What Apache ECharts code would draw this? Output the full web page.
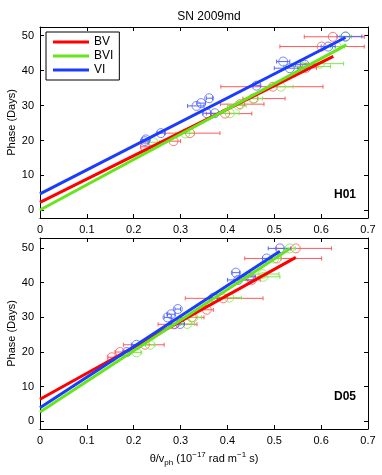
<!DOCTYPE html>
<html>
<head>
<meta charset="utf-8">
<script src="https://cdn.jsdelivr.net/npm/echarts@6/dist/echarts.min.js"></script>
<style>
  html, body { margin: 0; padding: 0; background: #fff; }
</style>
</head>
<body>
<div id="chart" style="width: 382px; height: 475px;"></div>
<script>
// points: [x, phase, xLow, xHigh]
const h01BV = [
  [0.224, 18.2, 0.215, 0.235], [0.285, 19.8, 0.265, 0.300], [0.320, 22.1, 0.267, 0.384],
  [0.395, 27.7, 0.355, 0.452], [0.427, 30.4, 0.385, 0.478], [0.455, 32.0, 0.433, 0.523],
  [0.497, 35.4, 0.386, 0.604], [0.568, 40.8, 0.550, 0.590], [0.601, 46.9, 0.512, 0.692],
  [0.625, 49.7, 0.564, 0.692]
];
const h01BVI = [
  [0.242, 19.5, 0.230, 0.255], [0.310, 22.0, 0.290, 0.330], [0.405, 27.8, 0.385, 0.425],
  [0.423, 30.0, 0.400, 0.440], [0.457, 32.0, 0.440, 0.475], [0.514, 35.4, 0.490, 0.540],
  [0.565, 41.2, 0.520, 0.620], [0.597, 42.0, 0.555, 0.648], [0.633, 46.9, 0.620, 0.650],
  [0.652, 49.7, 0.640, 0.665]
];
const h01VI = [
  [0.224, 19.8, 0.215, 0.232], [0.226, 20.3, 0.218, 0.234], [0.258, 22.1, 0.250, 0.266],
  [0.334, 29.9, 0.315, 0.350], [0.344, 30.7, 0.335, 0.353], [0.361, 32.1, 0.355, 0.368],
  [0.356, 27.8, 0.348, 0.364], [0.373, 27.8, 0.365, 0.381], [0.462, 35.7, 0.455, 0.470],
  [0.519, 42.6, 0.505, 0.533], [0.533, 40.7, 0.500, 0.570], [0.565, 41.7, 0.545, 0.585],
  [0.615, 46.9, 0.600, 0.630], [0.652, 49.8, 0.634, 0.687]
];
const d05BV = [
  [0.153, 18.5, 0.145, 0.160], [0.171, 20.0, 0.160, 0.180], [0.224, 22.1, 0.178, 0.265],
  [0.285, 28.0, 0.252, 0.335], [0.324, 30.0, 0.300, 0.350], [0.356, 32.2, 0.340, 0.370],
  [0.391, 35.5, 0.310, 0.476], [0.452, 40.8, 0.430, 0.470], [0.505, 47.0, 0.437, 0.601],
  [0.546, 49.9, 0.505, 0.622]
];
const d05BVI = [
  [0.206, 19.9, 0.195, 0.217], [0.235, 22.1, 0.225, 0.245], [0.314, 28.1, 0.300, 0.330],
  [0.327, 30.0, 0.310, 0.345], [0.404, 35.7, 0.380, 0.430], [0.477, 41.7, 0.445, 0.512],
  [0.475, 42.5, 0.440, 0.510], [0.500, 47.0, 0.490, 0.515], [0.533, 49.9, 0.520, 0.545]
];
const d05VI = [
  [0.185, 20.0, 0.178, 0.192], [0.206, 22.1, 0.195, 0.215], [0.272, 30.0, 0.265, 0.280],
  [0.280, 30.9, 0.272, 0.288], [0.294, 32.4, 0.288, 0.300], [0.288, 28.1, 0.280, 0.296],
  [0.299, 28.1, 0.290, 0.308], [0.370, 35.7, 0.362, 0.378], [0.418, 42.9, 0.410, 0.426],
  [0.423, 40.8, 0.400, 0.455], [0.448, 41.7, 0.435, 0.460], [0.484, 47.0, 0.475, 0.493],
  [0.512, 49.9, 0.487, 0.535]
];
// fitted lines: [x, phase] end points
const h01FitBV = [[0, 2.3], [0.626, 44.1]];
const h01FitBVI = [[0, 0.1], [0.654, 47.4]];
const h01FitVI = [[0, 4.7], [0.652, 49.5]];
const d05FitBV = [[0, 6.4], [0.546, 47.3]];
const d05FitBVI = [[0, 2.7], [0.533, 49.8]];
const d05FitVI = [[0, 3.9], [0.512, 49.1]];

const yTicks = [0, 10, 20, 30, 40, 50];
const xTicks = [0, 0.1, 0.2, 0.3, 0.4, 0.5, 0.6, 0.7];

const lineCol = { BV: '#ff0000', BVI: '#66e61a', VI: '#1a3cff' };
const ptCol = { BV: '#ff5a5a', BVI: '#7ee84a', VI: '#5468ff' };
const font = 'Liberation Sans, Arial, sans-serif';

const chart = echarts.init(document.getElementById('chart'));

function xAx(grid, pos, showLabel, name) {
  return {
    type: 'value', gridIndex: grid, position: pos, min: 0, max: 0.7, interval: 0.1,
    axisLine: { show: true, onZero: false, lineStyle: { color: '#000', width: 1 } },
    axisTick: { show: true, inside: true, length: 4, lineStyle: { color: '#000' } },
    axisLabel: {
      show: showLabel, color: '#000', fontSize: 11, fontFamily: font, margin: 6,
      customValues: xTicks, formatter: v => String(Math.round(v * 10) / 10)
    },
    splitLine: { show: false },
    name: name || '', nameLocation: 'middle', nameGap: 22,
    nameTextStyle: {
      fontFamily: font, color: '#000',
      rich: {
        n: { fontSize: 11, fontFamily: font, color: '#000', lineHeight: 16, verticalAlign: 'middle' },
        sub: { fontSize: 8, fontFamily: font, color: '#000', lineHeight: 8, verticalAlign: 'bottom' },
        sup: { fontSize: 8, fontFamily: font, color: '#000', lineHeight: 8, verticalAlign: 'top' }
      }
    }
  };
}
function yAx(grid, pos, min, max, name) {
  return {
    type: 'value', gridIndex: grid, position: pos, min: min, max: max,
    axisLine: { show: true, onZero: false, lineStyle: { color: '#000', width: 1 } },
    axisTick: { show: true, inside: true, length: 4, customValues: yTicks, lineStyle: { color: '#000' } },
    axisLabel: { show: pos === 'left', color: '#000', fontSize: 11, fontFamily: font, margin: 6, customValues: yTicks },
    splitLine: { show: false },
    name: name || '', nameLocation: 'middle', nameGap: 23, nameMoveOverlap: false,
    nameTextStyle: { fontSize: 11, fontFamily: font, color: '#000' }
  };
}

function errSeries(name, data, grid) {
  return {
    type: 'custom', name: name + ' err', xAxisIndex: grid * 2, yAxisIndex: grid * 2, z: 2,
    data: data,
    encode: { x: [0, 2, 3], y: 1 },
    renderItem: function (params, api) {
      const y = api.value(1);
      const a = api.coord([api.value(2), y]);
      const b = api.coord([api.value(3), y]);
      const st = { stroke: ptCol[name], lineWidth: 1 };
      return {
        type: 'group',
        children: [
          { type: 'line', shape: { x1: a[0], y1: a[1], x2: b[0], y2: b[1] }, style: st },
          { type: 'line', shape: { x1: a[0], y1: a[1] - 2, x2: a[0], y2: a[1] + 2 }, style: st },
          { type: 'line', shape: { x1: b[0], y1: b[1] - 2, x2: b[0], y2: b[1] + 2 }, style: st }
        ]
      };
    }
  };
}
function ptSeries(name, data, grid) {
  return {
    type: 'scatter', name: name + ' pts', xAxisIndex: grid * 2, yAxisIndex: grid * 2, z: 3,
    symbol: 'circle', symbolSize: 9,
    data: data.map(d => [d[0], d[1]]),
    itemStyle: { color: 'rgba(0,0,0,0)', borderColor: ptCol[name], borderWidth: 1 }
  };
}
function fitSeries(name, data, grid) {
  return {
    type: 'line', name: name, xAxisIndex: grid * 2, yAxisIndex: grid * 2, z: 4,
    data: data, showSymbol: false, symbol: 'none',
    lineStyle: { color: lineCol[name], width: 3 }, itemStyle: { color: lineCol[name] }
  };
}

const panels = [
  { BV: h01BV, BVI: h01BVI, VI: h01VI, fit: { BV: h01FitBV, BVI: h01FitBVI, VI: h01FitVI } },
  { BV: d05BV, BVI: d05BVI, VI: d05VI, fit: { BV: d05FitBV, BVI: d05FitBVI, VI: d05FitVI } }
];
const series = [];
panels.forEach((p, g) => {
  ['BV', 'BVI', 'VI'].forEach(n => series.push(errSeries(n, p[n], g)));
  ['BV', 'BVI', 'VI'].forEach(n => series.push(ptSeries(n, p[n], g)));
  ['BV', 'BVI', 'VI'].forEach(n => series.push(fitSeries(n, p.fit[n], g)));
});

const option = {
  animation: false,
  backgroundColor: '#fff',
  title: {
    text: 'SN 2009md', left: 204, top: 6, textAlign: 'center',
    textStyle: { fontSize: 12, fontWeight: 'normal', fontFamily: font, color: '#000' }
  },
  legend: {
    data: ['BV', 'BVI', 'VI'], orient: 'vertical', left: 46, top: 32,
    backgroundColor: '#fff', borderColor: '#000', borderWidth: 1, borderRadius: 0,
    padding: [4, 6, 4, 7], itemGap: 2, itemWidth: 36, itemHeight: 3, icon: 'rect',
    selectedMode: false,
    textStyle: { fontSize: 12, fontFamily: font, color: '#000' }
  },
  grid: [
    { left: 40, top: 27, width: 328, height: 191, outerBoundsMode: 'none', containLabel: false },
    { left: 40, top: 238, width: 328, height: 191, outerBoundsMode: 'none', containLabel: false }
  ],
  xAxis: [
    xAx(0, 'bottom', true), xAx(0, 'top', false),
    xAx(1, 'bottom', true, '{n|θ/v}{sub|ph}{n| (10}{sup|−17}{n| rad m}{sup|−1}{n| s)}'), xAx(1, 'top', false)
  ],
  yAxis: [
    yAx(0, 'left', -2.2, 52.5, 'Phase (Days)'), yAx(0, 'right', -2.2, 52.5),
    yAx(1, 'left', -2.2, 52.9, 'Phase (Days)'), yAx(1, 'right', -2.2, 52.9)
  ],
  graphic: [
    { type: 'text', right: 26, top: 189, style: { text: 'H01', fontSize: 12, fontWeight: 'bold', fontFamily: font, fill: '#000' } },
    { type: 'text', right: 26, top: 391, style: { text: 'D05', fontSize: 12, fontWeight: 'bold', fontFamily: font, fill: '#000' } }
  ],
  series: series
};
chart.setOption(option);
</script>
</body>
</html>
